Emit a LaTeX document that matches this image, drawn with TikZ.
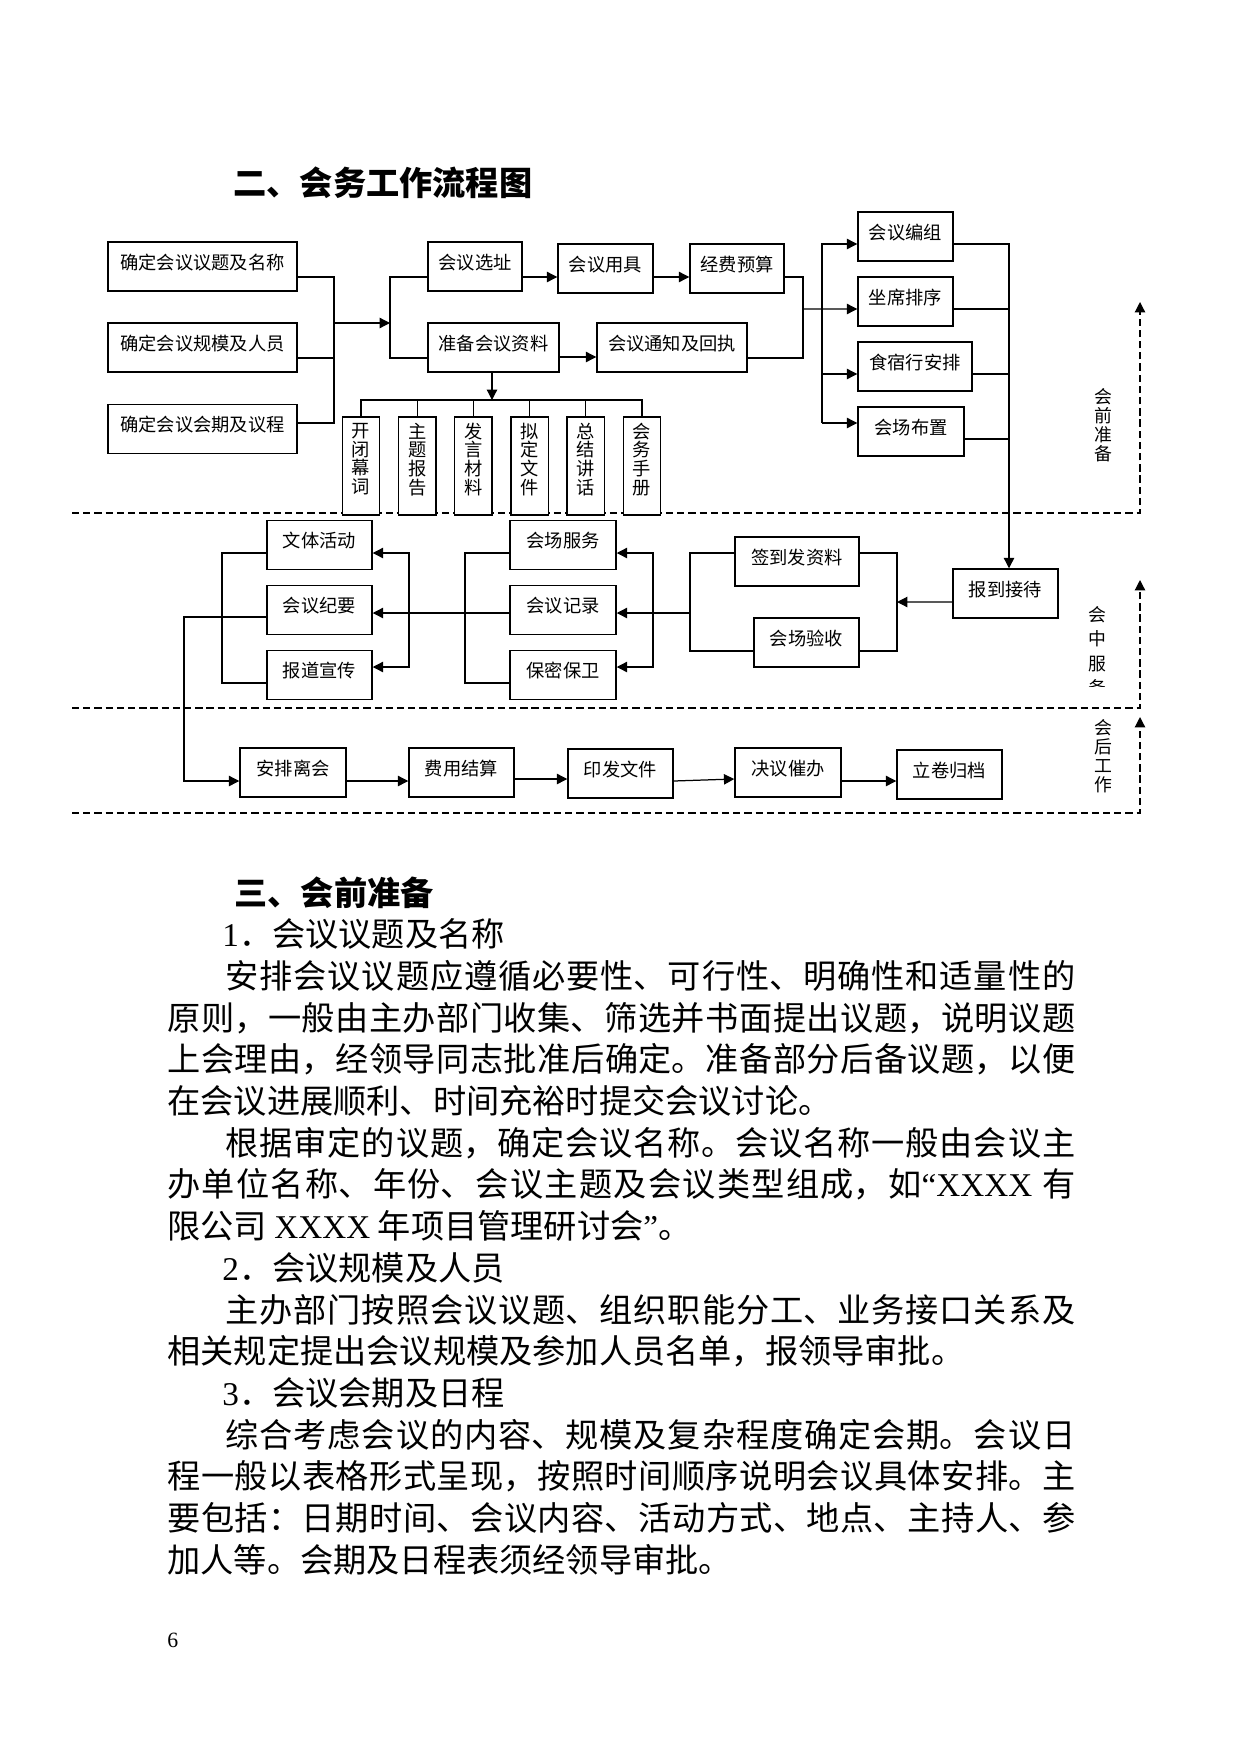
\documentclass[tikz,border=0pt]{standalone}
\usepackage{fontspec}
\setmainfont{Noto Sans CJK SC}
\newfontfamily\latinfont{Liberation Serif}
\usetikzlibrary{arrows.meta}
\XeTeXlinebreaklocale "zh"
\XeTeXlinebreakskip = 0pt plus 1pt
\newlength\unitpx
\setlength\unitpx{0.169355mm}
\newcommand\boxfont{\fontsize{8.8pt}{9pt}\selectfont}
\newcommand\sidefont{\fontsize{8.6pt}{9.1pt}\selectfont}
\newcommand\bodyfont{\fontsize{16pt}{20.09pt}\selectfont\parindent=0pt\parskip=0pt}

\tikzset{
  box/.style={draw, line width=0.7pt, fill=white, inner sep=0pt, font=\boxfont,
    minimum height=49\unitpx, text height=8pt, text depth=5.5pt},
  vbox/.style={draw, line width=0.7pt, fill=white, inner sep=0pt, font=\boxfont,
    align=center, minimum width=37.5\unitpx, minimum height=98\unitpx, text depth=7.3pt},
  ln/.style={line width=0.6pt},
  arr/.style={ln, -{Triangle[length=5pt, width=5pt]}},
  sect/.style={line width=0.6pt, dash pattern=on 3.5pt off 1.9pt, -{Triangle[length=5pt, width=5pt]}},
  side/.style={inner sep=0pt, align=center, font=\sidefont},
}

\begin{document}
\begin{tikzpicture}[x=\unitpx, y=-\unitpx]
  \path[use as bounding box] (0,0) rectangle (1240,1754);

  % section lines
  \coordinate (s1l) at (72,513);  \coordinate (s1r) at (1140,513); \coordinate (s1t) at (1140,302);
  \coordinate (s2l) at (72,708);  \coordinate (s2r) at (1140,708); \coordinate (s2t) at (1140,580);
  \coordinate (s3l) at (72,813);  \coordinate (s3r) at (1140,813); \coordinate (s3t) at (1140,717);
  \draw[sect] (s1l) -- (s1r) -- (s1t);
  \draw[sect] (s2l) -- (s2r) -- (s2t);
  \draw[sect] (s3l) -- (s3r) -- (s3t);

  \node[anchor=west, inner sep=0pt, font=\bfseries\fontsize{16pt}{20pt}\selectfont] (title) at (233,183) {二、会务工作流程图};

  % before the meeting
  \node[box, minimum width=189\unitpx] (ti) at (202.5,266.5) {确定会议议题及名称};
  \node[box, minimum width=189\unitpx] (gm) at (202.5,347.5) {确定会议规模及人员};
  \node[box, minimum width=189\unitpx] (hq) at (202.5,429) {确定会议会期及议程};
  \node[box, minimum width=94\unitpx] (xz) at (475,266.5) {会议选址};
  \node[box, minimum width=131\unitpx] (zl) at (493.5,347.5) {准备会议资料};
  \node[box, minimum width=95\unitpx] (yj) at (605.5,268.5) {会议用具};
  \node[box, minimum width=94\unitpx] (jf) at (737,268.5) {经费预算};
  \node[box, minimum width=150\unitpx] (tz) at (672,347.5) {会议通知及回执};
  \node[box, minimum width=95\unitpx] (bz) at (905.5,236.5) {会议编组};
  \node[box, minimum width=95\unitpx] (px) at (905.5,301.5) {坐席排序};
  \node[box, minimum width=114\unitpx] (ss) at (915,366.5) {食宿行安排};
  \node[box, minimum width=106\unitpx] (bj) at (911,431.5) {会场布置};
  \foreach \t [count=\i] in {{开\\闭\\幕\\词},{主\\题\\报\\告},{发\\言\\材\\料},{拟\\定\\文\\件},{总\\结\\讲\\话},{会\\务\\手\\册}}
    \node[vbox] (k\i) at ({361+56.2*(\i-1)},466) {\t};

  \coordinate (jA) at (334,323);
  \coordinate (jB) at (390,323);
  \coordinate (jC) at (803,309);
  \coordinate (jD) at (822,423);
  \coordinate (bar) at (492,400);

  \draw[ln] ([yshift=-10.5\unitpx]ti.east) -| (jA) |- ([yshift=6\unitpx]hq.east);
  \draw[ln] ([yshift=-10.5\unitpx]gm.east) -- ++(37,0);
  \draw[arr] (jA) -- (jB);
  \draw[ln] ([yshift=-10.5\unitpx]xz.west) -| (jB) |- ([yshift=-10.5\unitpx]zl.west);
  \draw[arr] ([yshift=-10.5\unitpx]xz.east) -- ([yshift=-8.5\unitpx]yj.west);
  \draw[arr] ([yshift=-8.5\unitpx]yj.east) -- ([yshift=-8.5\unitpx]jf.west);
  \draw[arr] ([yshift=-9.5\unitpx]zl.east) -- ([yshift=-9.5\unitpx]tz.west);
  \draw[ln] ([yshift=-8.5\unitpx]jf.east) -| (jC) |- ([yshift=-10.5\unitpx]tz.east);
  \draw[arr] (jC) -- ([yshift=-7.5\unitpx]px.west);
  \draw[arr] (jD) |- ([yshift=-7.5\unitpx]bz.west);
  \draw[arr] ([yshift=-7.5\unitpx]ss.west) ++(-36,0) -- ++(36,0);
  \draw[arr] (jD) -- ([yshift=8.5\unitpx]bj.west);
  \draw[arr] (zl.south -| bar) -- (bar);
  \draw[ln] (k1.north) |- (bar) -| (k6.north);
  \foreach \i in {2,...,5}
    \draw[ln] (k\i.north) -- (k\i.north |- bar);

  % during the meeting
  \node[box, minimum width=105\unitpx] (jd) at (1005.5,593.5) {报到接待};
  \node[box, minimum width=124\unitpx] (qd) at (797,561.5) {签到发资料};
  \node[box, minimum width=105\unitpx] (yc) at (806.5,642.5) {会场验收};
  \node[box, minimum width=106\unitpx] (fw) at (563,545) {会场服务};
  \node[box, minimum width=106\unitpx] (jl) at (563,610) {会议记录};
  \node[box, minimum width=106\unitpx] (bm) at (563,675) {保密保卫};
  \node[box, minimum width=105\unitpx] (wt) at (319.5,545) {文体活动};
  \node[box, minimum width=105\unitpx] (jy) at (319.5,610) {会议纪要};
  \node[box, minimum width=105\unitpx] (bd) at (319.5,675) {报道宣传};

  \draw[arr] ([yshift=-7.5\unitpx]bz.east) -| ([xshift=3.5\unitpx]jd.north);
  \draw[ln] ([yshift=-7.5\unitpx]px.east) -- ++(56,0);
  \draw[ln] ([yshift=-7.5\unitpx]ss.east) -- ++(37,0);
  \draw[ln] ([yshift=-7.5\unitpx]bj.east) -- ++(45,0);

  \coordinate (kR) at (897,602);
  \coordinate (kL) at (690,613);
  \coordinate (kM) at (653,613);
  \coordinate (kN) at (465,613);
  \coordinate (kP) at (409,613);
  \coordinate (kQ) at (222,613);
  \coordinate (kS) at (184,700);

  \draw[arr] ([yshift=-8.5\unitpx]jd.west) -- (kR);
  \draw[ln] ([yshift=8.5\unitpx]qd.east) -| (kR) |- ([yshift=-8.5\unitpx]yc.east);
  \draw[ln] ([yshift=8.5\unitpx]qd.west) -| (kL) |- ([yshift=-8.5\unitpx]yc.west);
  \draw[arr] (kL) -- ([yshift=-3\unitpx]jl.east);
  \draw[arr] (kM) |- ([yshift=-8\unitpx]fw.east);
  \draw[arr] (kM) |- ([yshift=8\unitpx]bm.east);
  \draw[ln] ([yshift=-8\unitpx]fw.west) -| (kN) |- ([yshift=-8\unitpx]bm.west);
  \draw[arr] ([yshift=-3\unitpx]jl.west) -- ([yshift=-3\unitpx]jy.east);
  \draw[arr] (kP) |- ([yshift=-8\unitpx]wt.east);
  \draw[arr] (kP) |- ([yshift=8\unitpx]bd.east);
  \draw[ln] ([yshift=-8\unitpx]wt.west) -| (kQ) |- ([yshift=-8\unitpx]bd.west);

  % after the meeting
  \node[box, minimum width=106\unitpx] (lh) at (293,772.5) {安排离会};
  \node[box, minimum width=105\unitpx] (js) at (461.5,772.5) {费用结算};
  \node[box, minimum width=105\unitpx] (yf) at (620.5,773.5) {印发文件};
  \node[box, minimum width=106\unitpx] (cb) at (788,772.5) {决议催办};
  \node[box, minimum width=105\unitpx] (gd) at (949.5,774.5) {立卷归档};

  \draw[arr] ([yshift=-7\unitpx]jy.west) -| (kS) |- ([yshift=-8.5\unitpx]lh.west);
  \draw[arr] ([yshift=-8.5\unitpx]lh.east) -- ([yshift=-8.5\unitpx]js.west);
  \draw[arr] ([yshift=-6.5\unitpx]js.east) -- ([yshift=-5.5\unitpx]yf.west);
  \draw[arr] ([yshift=-7.5\unitpx]yf.east) -- ([yshift=-6.5\unitpx]cb.west);
  \draw[arr] ([yshift=-8.5\unitpx]cb.east) -- ([yshift=-6.5\unitpx]gd.west);

  % stage labels
  \node[side] (hq1) at (1103,425) {会\\前\\准\\备};
  \begin{scope}
    \clip (1070,590) rectangle (1125,686);
    \node[side, font=\fontsize{8.6pt}{11.8pt}\selectfont] (hq2) at (1097,651) {会\\中\\服\\务};
  \end{scope}
  \node[side] (hq3) at (1103,756) {会\\后\\工\\作};

  % text below
  \node[anchor=north west, inner sep=0pt, text width=908\unitpx, align=justify, font=\bodyfont] (sec) at (167,876) {%
\hspace*{32.3pt}\textbf{三、会前准备}\par
\hspace*{26.5pt}{\latinfont 1}．会议议题及名称\par
\hspace*{28pt}安排会议议题应遵循必要性、可行性、明确性和适量性的\linebreak
原则，一般由主办部门收集、筛选并书面提出议题，说明议题\linebreak
上会理由，经领导同志批准后确定。准备部分后备议题，以便\linebreak
在会议进展顺利、时间充裕时提交会议讨论。\par
\hspace*{28pt}根据审定的议题，确定会议名称。会议名称一般由会议主\linebreak
办单位名称、年份、会议主题及会议类型组成，如{\latinfont “XXXX} 有\linebreak
限公司 {\latinfont XXXX} 年项目管理研讨会{\latinfont ”}。\par
\hspace*{26.5pt}{\latinfont 2}．会议规模及人员\par
\hspace*{28pt}主办部门按照会议议题、组织职能分工、业务接口关系及\linebreak
相关规定提出会议规模及参加人员名单，报领导审批。\par
\hspace*{26.5pt}{\latinfont 3}．会议会期及日程\par
\hspace*{28pt}综合考虑会议的内容、规模及复杂程度确定会期。会议日\linebreak
程一般以表格形式呈现，按照时间顺序说明会议具体安排。主\linebreak
要包括：日期时间、会议内容、活动方式、地点、主持人、参\linebreak
加人等。会期及日程表须经领导审批。\par};

  \node[anchor=west, inner sep=0pt, font=\latinfont\fontsize{10.5pt}{12pt}\selectfont] (pg) at (167,1640) {6};
\end{tikzpicture}
\end{document}
